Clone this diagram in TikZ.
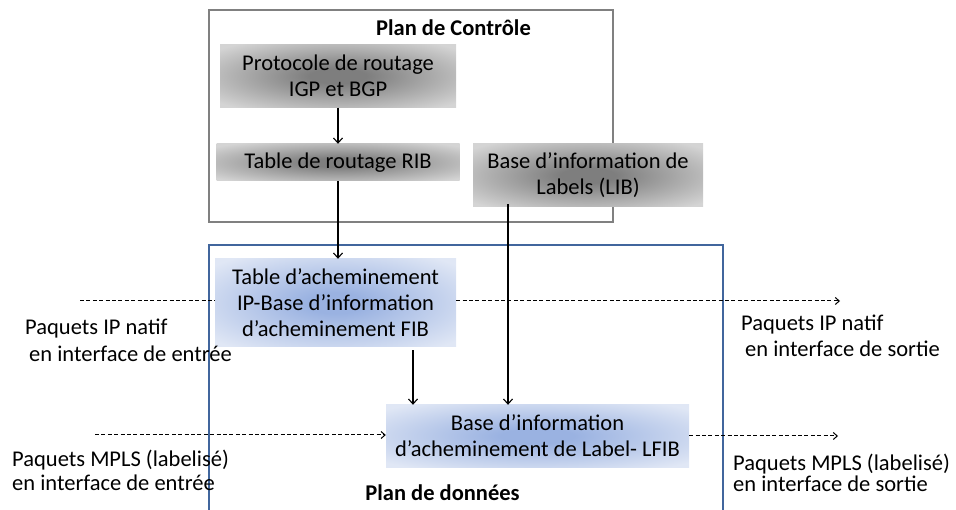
\documentclass[tikz,border=0pt]{standalone}
\usepackage{fontspec}
\setmainfont{Carlito}
\usetikzlibrary{arrows.meta,shadings,calc}
\definecolor{grayedge}{HTML}{D4D4D4}
\definecolor{graymid}{HTML}{7E7E7E}
\definecolor{blueedge}{HTML}{E0E7F5}
\definecolor{bluemid}{HTML}{9AB2E1}
\definecolor{ctrlframe}{HTML}{808080}
\definecolor{dataframe}{HTML}{41669D}
% soft glow: darkest in the middle, fading out to the box edges
% (the central 50bp square of the shading covers the box)
\pgfdeclareradialshading{grayglow}{\pgfpointorigin}{color(0bp)=(graymid); color(6bp)=(graymid); color(33bp)=(grayedge); color(50bp)=(grayedge)}
\pgfdeclareradialshading{blueglow}{\pgfpointorigin}{color(0bp)=(bluemid); color(6bp)=(bluemid); color(33bp)=(blueedge); color(50bp)=(blueedge)}
\tikzset{
  graybox/.style={rectangle, inner sep=0pt, align=center, shading=grayglow,
    font=\fontsize{22.5}{26}\selectfont},
  bluebox/.style={rectangle, inner sep=0pt, align=center, shading=blueglow,
    font=\fontsize{22.5}{26}\selectfont},
  flow/.style={line width=1.1pt, -{Straight Barb[length=5pt,width=9pt]}},
  packet/.style={line width=1pt, dash pattern=on 4pt off 2.4pt},
  packetarrow/.style={packet, -{Straight Barb[length=4pt,width=7pt]}},
  lbl/.style={align=left, inner sep=0pt},
  title/.style={inner sep=0pt, font=\fontsize{22.5}{26}\selectfont\bfseries},
}
\begin{document}
\begin{tikzpicture}[x=1pt,y=-1pt]
\useasboundingbox (0,0) rectangle (956,510);

% control plane and data plane frames
\draw[ctrlframe, line width=2pt] (209,10) rectangle (613,222);
\draw[dataframe, line width=2pt] (209,520) -- (209,245) -- (723,245) -- (723,520);
\node[title] (ctrl) at (453.5,28) {Plan de Contrôle};
\node[title] (data) at (442.5,493) {Plan de données};

% control plane tables
\node[graybox, minimum width=236pt, minimum height=63pt] (proto) at (338,76)
  {Protocole de routage\\IGP et BGP};
\node[graybox, minimum width=243pt, minimum height=37pt] (rib) at (338,162.5)
  {Table de routage RIB};
\node[graybox, minimum width=230pt, minimum height=63pt] (lib) at (588,175.5)
  {Base d’information de\\Labels (LIB)};

% data plane tables
\node[bluebox, minimum width=241pt, minimum height=88pt] (fib) at (335.5,303)
  {Table d’acheminement\\IP-Base d’information\\d’acheminement FIB};
\node[bluebox, minimum width=303pt, minimum height=62pt] (lfib) at (537.5,436)
  {Base d’information\\d’acheminement de Label- LFIB};

% packet flows
\coordinate (ipin) at (80,301);
\coordinate (ipout) at (840,301);
\coordinate (mplsin) at (95,435);
\coordinate (mplsout) at (838,436);
\draw[packet] (ipin) -- (ipin -| fib.west);
\draw[packetarrow] (ipin -| fib.east) -- (ipout);
\draw[packetarrow] (mplsin) -- (mplsin -| lfib.west);
\draw[packetarrow] (mplsout -| lfib.east) -- (mplsout);

% table relations
\draw[flow] (proto.south) -- (proto.south |- rib.north);
\draw[flow] (rib.south) -- (rib.south |- fib.north);
\coordinate (libfoot) at ($(lib.south)+(-80,-3)$);
\draw[flow] (libfoot) -- (libfoot |- lfib.north);
\coordinate (fibfoot) at ($(fib.south)+(77.5,3)$);
\draw[flow] (fibfoot) -- (fibfoot |- lfib.north);

% packet labels
\node[lbl, anchor=west, font=\fontsize{22.5}{27}\selectfont] (ipinlbl) at (25,340.5)
  {Paquets IP natif\\\hspace*{4pt}en interface de entrée};
\node[lbl, anchor=west, font=\fontsize{22.5}{23.5}\selectfont] (mplsinlbl) at (12,470.5)
  {Paquets MPLS (labelisé)\\en interface de entrée};
\node[lbl, anchor=west, font=\fontsize{22.5}{26}\selectfont] (ipoutlbl) at (741,336)
  {Paquets IP natif\\\hspace*{4pt}en interface de sortie};
\node[lbl, anchor=west, font=\fontsize{22.5}{21}\selectfont] (mplsoutlbl) at (733,472.5)
  {Paquets MPLS (labelisé)\\en interface de sortie};
\end{tikzpicture}
\end{document}
